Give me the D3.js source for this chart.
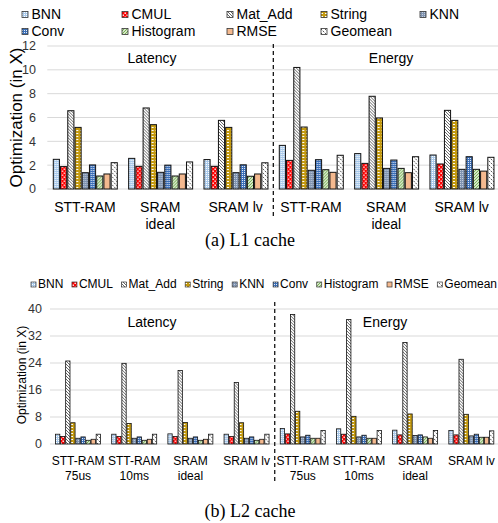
<!DOCTYPE html>
<html>
<head>
<meta charset="utf-8">
<script src="https://cdn.jsdelivr.net/npm/d3@7"></script>
<style>
body { margin: 0; background: #fff; }
svg { display: block; font-family: "Liberation Sans", Arial, sans-serif; }
</style>
</head>
<body>
<svg id="chart" width="498" height="523"></svg>
<script>
const series = ["BNN", "CMUL", "Mat_Add", "String", "KNN", "Conv", "Histogram", "RMSE", "Geomean"];

const l1Categories = ["STT-RAM", "SRAM\nideal", "SRAM lv"];
const l1Latency = [
    [2.49, 1.88, 6.57, 5.17, 1.37, 2.02, 1.09, 1.26, 2.21],
    [2.57, 1.90, 6.80, 5.40, 1.40, 2.00, 1.09, 1.26, 2.27],
    [2.47, 1.90, 5.76, 5.17, 1.37, 2.03, 1.07, 1.26, 2.20]
];
const l1Energy = [
    [3.66, 2.40, 10.2, 5.20, 1.57, 2.46, 1.62, 1.40, 2.83],
    [2.97, 2.15, 7.78, 5.96, 1.73, 2.43, 1.73, 1.37, 2.71],
    [2.85, 2.10, 6.60, 5.76, 1.65, 2.71, 1.65, 1.50, 2.66]
];
const l1Ticks = [0, 2, 4, 6, 8, 10, 12];

const l2Categories = ["STT-RAM\n75us", "STT-RAM\n10ms", "SRAM\nideal", "SRAM lv"];
const l2Latency = [
    [2.9, 2.2, 24.6, 6.3, 1.7, 2.1, 1.1, 1.4, 2.9],
    [2.9, 2.2, 23.9, 6.1, 1.7, 2.1, 1.1, 1.4, 2.9],
    [3.0, 2.2, 21.8, 6.4, 1.7, 2.1, 1.1, 1.4, 2.9],
    [2.9, 2.2, 18.2, 6.3, 1.7, 2.1, 1.1, 1.4, 2.9]
];
const l2Energy = [
    [4.6, 3.0, 38.4, 9.7, 2.1, 2.6, 1.7, 1.7, 4.0],
    [4.5, 2.9, 36.9, 8.2, 2.1, 2.6, 1.7, 1.7, 4.0],
    [4.1, 2.7, 30.1, 8.9, 2.5, 2.7, 2.1, 1.7, 4.0],
    [4.0, 2.7, 25.1, 8.8, 2.4, 2.9, 2.0, 2.0, 3.9]
];
const l2Ticks = [0, 8, 16, 24, 32, 40];

const svg = d3.select("#chart");
const defs = svg.append("defs");

function pattern(id, w, h, bg) {
    const p = defs.append("pattern")
        .attr("id", id)
        .attr("patternUnits", "userSpaceOnUse")
        .attr("width", w)
        .attr("height", h);
    p.append("rect").attr("width", w).attr("height", h).attr("fill", bg);
    return p;
}

// BNN - light blue dots
let p = pattern("pat0", 2, 2, "#a9c9ea");
p.append("rect").attr("width", 1).attr("height", 1).attr("fill", "#fff");
// CMUL - red checker
p = pattern("pat1", 4, 4, "#ff0000");
p.append("rect").attr("x", 0.5).attr("y", 0.5).attr("width", 1.4).attr("height", 1.4).attr("fill", "#fff");
p.append("rect").attr("x", 2.5).attr("y", 2.5).attr("width", 1.4).attr("height", 1.4).attr("fill", "#fff");
// Mat_Add - dark diagonal
p = pattern("pat2", 3, 3, "#fff");
p.append("path").attr("d", "M-1,-1L4,4M-1,2L1,4M2,-1L4,1").attr("stroke", "#666").attr("stroke-width", 1);
// String - gold with white dashes
p = pattern("pat3", 4, 3, "#c49a10");
p.append("rect").attr("x", 1).attr("y", 1).attr("width", 2).attr("height", 1).attr("fill", "#fff");
// KNN - blue grey dots
p = pattern("pat4", 2, 2, "#7f93b0");
p.append("rect").attr("width", 1).attr("height", 1).attr("fill", "#c4cfdf");
// Conv - blue grid
p = pattern("pat5", 2, 2, "#3b6fb8");
p.append("rect").attr("width", 1).attr("height", 1).attr("fill", "#e8eef8");
// Histogram - green diagonal
p = pattern("pat6", 3, 3, "#fff");
p.append("path").attr("d", "M-1,4L4,-1M-1,1L1,-1M2,4L4,2").attr("stroke", "#70ad47").attr("stroke-width", 1.1);
// RMSE - peach
pattern("pat7", 2, 2, "#f4b98f");
// Geomean - dashed diagonal
p = pattern("pat8", 4, 4, "#fff");
p.append("path").attr("d", "M-1,-1L5,5M-1,3L1,5M3,-1L5,1").attr("stroke", "#444").attr("stroke-width", 0.9).attr("stroke-dasharray", "1.8,1");

function drawPanel(cfg) {
    const cats = [...cfg.categories, ...cfg.categories];
    const values = [...cfg.latency, ...cfg.energy];
    const idx = d3.range(cats.length);

    const x0 = d3.scaleBand().domain(idx).range(cfg.xRange);
    const x1 = d3.scaleBand().domain(series).range(cfg.inner).paddingInner(0.15);
    const y = d3.scaleLinear().domain(cfg.yDomain).range(cfg.yRange);

    const g = svg.append("g");

    g.selectAll(".grid")
        .data(cfg.ticks)
        .join("line")
        .attr("x1", cfg.xRange[0])
        .attr("x2", cfg.xRange[1])
        .attr("y1", d => y(d))
        .attr("y2", d => y(d))
        .attr("stroke", "#d9d9d9")
        .attr("stroke-width", 1);

    g.selectAll(".tick")
        .data(cfg.ticks)
        .join("text")
        .attr("x", cfg.tickX)
        .attr("y", d => y(d))
        .attr("dy", "0.35em")
        .attr("text-anchor", "end")
        .attr("font-size", cfg.tickSize)
        .attr("fill", "#333")
        .text(d => d);

    g.append("text")
        .attr("transform", `translate(${cfg.titleX},${cfg.titleY}) rotate(-90)`)
        .attr("text-anchor", "middle")
        .attr("dy", "0.35em")
        .attr("font-size", cfg.titleSize)
        .text("Optimization (in X)");

    const groups = g.selectAll(".grp")
        .data(values)
        .join("g")
        .attr("transform", (d, i) => `translate(${x0(i)},0)`);

    groups.selectAll("rect")
        .data(d => d.map((v, k) => ({ key: series[k], k, v })))
        .join("rect")
        .attr("x", d => x1(d.key))
        .attr("width", x1.bandwidth())
        .attr("y", d => y(d.v))
        .attr("height", d => y(0) - y(d.v))
        .attr("fill", d => `url(#pat${d.k})`)
        .attr("stroke", "#111")
        .attr("stroke-width", cfg.barStroke);

    g.selectAll(".cat")
        .data(cats)
        .join("text")
        .attr("text-anchor", "middle")
        .attr("font-size", cfg.catSize)
        .each(function(d, i) {
            d.split("\n").forEach((line, k) => {
                d3.select(this).append("tspan")
                    .attr("x", x0(i) + x0.bandwidth() / 2)
                    .attr("y", cfg.catY + k * cfg.catLine)
                    .text(line);
            });
        });

    const mid = x0(cfg.categories.length);
    g.append("line")
        .attr("x1", mid)
        .attr("x2", mid)
        .attr("y1", cfg.dashY[0])
        .attr("y2", cfg.dashY[1])
        .attr("stroke", "#000")
        .attr("stroke-width", 1.2)
        .attr("stroke-dasharray", "4,3");

    g.append("text")
        .attr("x", cfg.latencyX)
        .attr("y", cfg.labelY)
        .attr("text-anchor", "middle")
        .attr("font-size", 14)
        .text("Latency");

    g.append("text")
        .attr("x", cfg.energyX)
        .attr("y", cfg.labelY)
        .attr("text-anchor", "middle")
        .attr("font-size", 14)
        .text("Energy");
}

drawPanel({
    categories: l1Categories, latency: l1Latency, energy: l1Energy, ticks: l1Ticks,
    xRange: [47.3, 499.3], inner: [6, 70], yDomain: [0, 12], yRange: [189, 46],
    tickX: 36, tickSize: 12.5, titleX: 16, titleY: 117.5, titleSize: 17,
    catY: 212, catLine: 16.5, catSize: 14, barStroke: 1,
    dashY: [44, 216], latencyX: 152, energyX: 391, labelY: 62.7
});

drawPanel({
    categories: l2Categories, latency: l2Latency, energy: l2Energy, ticks: l2Ticks,
    xRange: [50, 499.5], inner: [5.5, 50.5], yDomain: [0, 40], yRange: [444, 309],
    tickX: 42, tickSize: 12.5, titleX: 22, titleY: 375, titleSize: 12,
    catY: 465, catLine: 14.5, catSize: 12, barStroke: 0.8,
    dashY: [302, 484], latencyX: 152, energyX: 385, labelY: 327
});

// top legend: fixed grid
const legendCols = [22, 122, 227, 321, 420];
const topLegend = svg.append("g");
series.forEach((s, i) => {
    const col = i < 5 ? i : i - 5;
    const row = i < 5 ? 0 : 1;
    const lx = legendCols[col];
    const ly = 19 + row * 17;
    topLegend.append("rect")
        .attr("x", lx)
        .attr("y", ly - 7.5)
        .attr("width", 6)
        .attr("height", 6)
        .attr("fill", `url(#pat${i})`)
        .attr("stroke", "#333")
        .attr("stroke-width", 0.8);
    topLegend.append("text")
        .attr("x", lx + 9.5)
        .attr("y", ly)
        .attr("font-size", 14)
        .text(s);
});

// bottom legend: one row, spread to fit
const bottomLegend = svg.append("g");
const items = series.map((s, i) => {
    const t = bottomLegend.append("text")
        .attr("y", 288)
        .attr("font-size", 12)
        .text(s);
    return { i, t, w: t.node().getComputedTextLength() };
});
const startX = 31, endX = 497;
const used = d3.sum(items, d => 5 + 2 + d.w);
const spacing = (endX - startX - used) / (items.length - 1);
let cx = startX;
items.forEach(d => {
    bottomLegend.append("rect")
        .attr("x", cx)
        .attr("y", 282)
        .attr("width", 5)
        .attr("height", 5)
        .attr("fill", `url(#pat${d.i})`)
        .attr("stroke", "#333")
        .attr("stroke-width", 0.7);
    d.t.attr("x", cx + 7);
    cx += 7 + d.w + spacing;
});

svg.append("text")
    .attr("x", 250)
    .attr("y", 246)
    .attr("text-anchor", "middle")
    .attr("font-family", "Liberation Serif, Times New Roman, serif")
    .attr("font-size", 18)
    .text("(a) L1 cache");

svg.append("text")
    .attr("x", 250)
    .attr("y", 517)
    .attr("text-anchor", "middle")
    .attr("font-family", "Liberation Serif, Times New Roman, serif")
    .attr("font-size", 18)
    .text("(b) L2 cache");
</script>
</body>
</html>
